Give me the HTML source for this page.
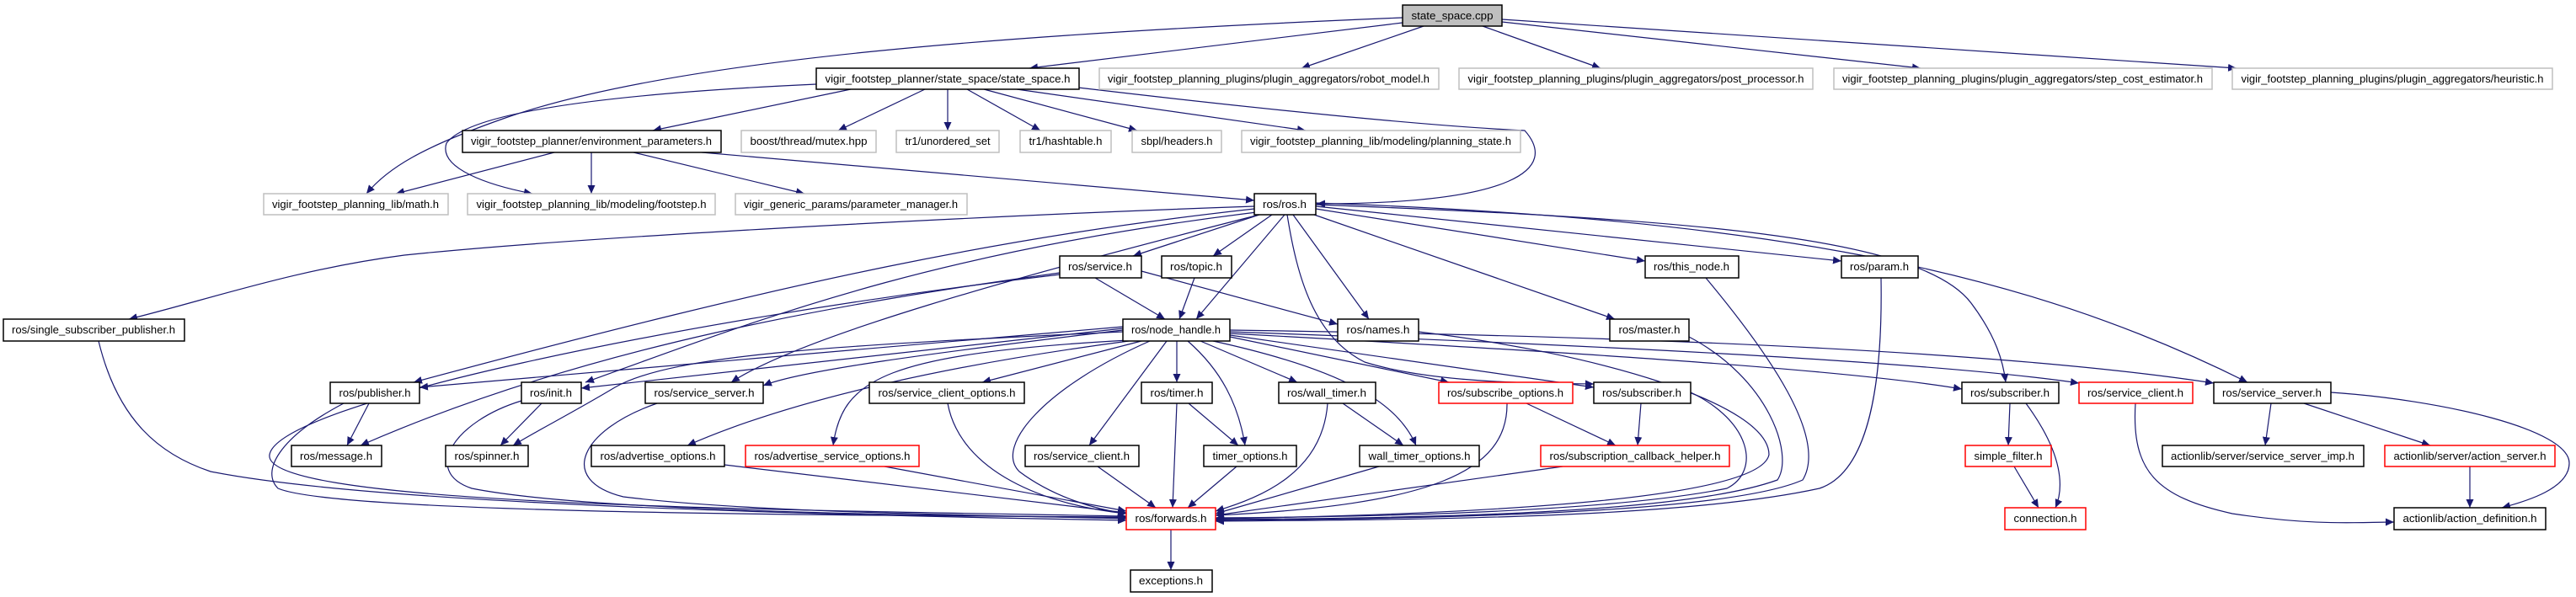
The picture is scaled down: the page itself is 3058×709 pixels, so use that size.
<!DOCTYPE html>
<html><head><meta charset="utf-8"><style>
html,body{margin:0;padding:0;background:#fff;}
svg{display:block;}
text{font-family:"Liberation Sans",sans-serif;font-size:13px;fill:#000;}
.e{fill:none;stroke:#191970;stroke-width:1.2;marker-end:url(#a);}
.b{fill:#fff;stroke:#000;stroke-width:1.5;}
.g{fill:#fff;stroke:#bfbfbf;stroke-width:1.5;}
.r{fill:#fff;stroke:#ff0000;stroke-width:1.5;}
.c{fill:#bfbfbf;stroke:#000;stroke-width:1.5;}
</style></head><body>
<svg width="3058" height="709" viewBox="0 0 3058 709" xmlns="http://www.w3.org/2000/svg">
<defs><marker id="a" markerUnits="userSpaceOnUse" markerWidth="11" markerHeight="9" refX="10" refY="4.5" orient="auto"><path d="M0,0 L10,4.5 L0,9 z" fill="#191970"/></marker></defs>
<g>
<path class="e" d="M1665,27 L1222,81"/>
<path class="e" d="M1690,31 L1545,81"/>
<path class="e" d="M1760,31 L1900,81"/>
<path class="e" d="M1783,26 L2280,81"/>
<path class="e" d="M1783,23 L2655,81"/>
<path class="e" d="M1665,21 C1200,40 800,70 600,140 C500,175 460,200 435,230"/>
<path class="e" d="M969,100 C750,110 560,130 530,170 C520,200 580,220 632,230"/>
<path class="e" d="M1010,106 L775,155"/>
<path class="e" d="M1098,106 L995,155"/>
<path class="e" d="M1125,106 L1125,155"/>
<path class="e" d="M1148,106 L1235,155"/>
<path class="e" d="M1168,106 L1350,155"/>
<path class="e" d="M1207,106 L1550,155"/>
<path class="e" d="M1280,104 C1500,130 1700,150 1810,155 C1850,200 1800,242 1563,242"/>
<path class="e" d="M658,181 L470,230"/>
<path class="e" d="M702,181 L702,230"/>
<path class="e" d="M752,181 L955,230"/>
<path class="e" d="M833,181 L1489,238"/>
<path class="e" d="M1489,245 C1200,255 700,280 480,303 C350,320 250,355 153,379"/>
<path class="e" d="M1489,248 C1200,280 950,330 491,454"/>
<path class="e" d="M1492,252 C1100,300 900,380 695,454"/>
<path class="e" d="M1495,255 C1200,330 950,400 868,454"/>
<path class="e" d="M1495,255 L1345,304"/>
<path class="e" d="M1510,255 L1440,304"/>
<path class="e" d="M1525,255 L1420,379"/>
<path class="e" d="M1535,255 L1625,379"/>
<path class="e" d="M1355,322 L1588,385"/>
<path class="e" d="M1560,255 L1917,379"/>
<path class="e" d="M1562,248 L1953,310"/>
<path class="e" d="M1562,245 L2186,310"/>
<path class="e" d="M1562,243 C2000,260 2280,280 2340,360 C2370,400 2378,430 2381,454"/>
<path class="e" d="M1562,241 C2100,260 2400,320 2668,454"/>
<path class="e" d="M1528,255 C1540,330 1560,400 1620,430 C1700,455 1820,455 1892,456"/>
<path class="e" d="M1300,330 L1383,379"/>
<path class="e" d="M1418,330 L1400,379"/>
<path class="e" d="M1258,324 C1000,360 700,410 428,529"/>
<path class="e" d="M1258,326 C800,380 330,480 320,540 C310,600 900,605 1337,613"/>
<path class="e" d="M1333,388 L498,460"/>
<path class="e" d="M1333,390 L690,461"/>
<path class="e" d="M1333,392 C1100,420 950,440 906,458"/>
<path class="e" d="M1333,394 C1000,410 800,420 730,460 C680,490 640,510 609,529"/>
<path class="e" d="M1340,405 C1150,430 950,470 816,529"/>
<path class="e" d="M1340,404 C1050,420 1000,450 989,529"/>
<path class="e" d="M1355,405 L1166,454"/>
<path class="e" d="M1385,405 L1293,529"/>
<path class="e" d="M1397,405 L1397,454"/>
<path class="e" d="M1410,405 C1450,440 1470,480 1478,529"/>
<path class="e" d="M1425,405 L1540,454"/>
<path class="e" d="M1440,405 C1600,440 1660,480 1681,529"/>
<path class="e" d="M1460,400 L1720,454"/>
<path class="e" d="M1460,398 L1892,460"/>
<path class="e" d="M1365,405 C1240,460 1180,530 1210,560 C1250,590 1300,605 1337,610"/>
<path class="e" d="M1460,396 C1900,420 2200,440 2329,462"/>
<path class="e" d="M1460,394 C1900,410 2300,430 2468,455"/>
<path class="e" d="M1460,392 C2000,400 2400,420 2628,455"/>
<path class="e" d="M438,479 L412,529"/>
<path class="e" d="M408,479 C330,520 310,560 330,580 C400,610 1000,612 1337,614"/>
<path class="e" d="M643,479 L594,529"/>
<path class="e" d="M619,476 C540,500 500,560 560,580 C700,608 1100,612 1337,615"/>
<path class="e" d="M780,479 C690,510 660,570 740,590 C900,610 1200,612 1337,616"/>
<path class="e" d="M117,405 C140,500 190,540 250,560 C450,600 1000,612 1337,618"/>
<path class="e" d="M860,552 L1337,609"/>
<path class="e" d="M1050,554 L1337,607"/>
<path class="e" d="M1125,479 C1140,560 1240,600 1337,610"/>
<path class="e" d="M1303,554 L1372,603"/>
<path class="e" d="M1397,479 L1392,603"/>
<path class="e" d="M1411,479 L1470,529"/>
<path class="e" d="M1468,554 L1410,603"/>
<path class="e" d="M1576,479 C1570,560 1500,590 1443,607"/>
<path class="e" d="M1594,479 L1666,529"/>
<path class="e" d="M1637,554 L1443,610"/>
<path class="e" d="M1789,479 C1790,560 1700,600 1443,612"/>
<path class="e" d="M1812,479 L1918,529"/>
<path class="e" d="M1948,479 L1944,529"/>
<path class="e" d="M2005,465 C2080,500 2090,560 2050,580 C1900,610 1600,614 1443,615"/>
<path class="e" d="M1855,554 L1443,612"/>
<path class="e" d="M1684,394 C1900,420 2100,480 2100,540 C2090,590 1800,610 1443,616"/>
<path class="e" d="M2005,400 C2100,450 2130,540 2110,570 C2000,610 1700,615 1443,617"/>
<path class="e" d="M2025,330 C2100,420 2170,520 2140,570 C2050,610 1700,616 1443,618"/>
<path class="e" d="M2233,330 C2235,450 2220,560 2160,580 C2000,615 1700,617 1443,619"/>
<path class="e" d="M1390,629 L1390,677"/>
<path class="e" d="M2386,479 L2384,529"/>
<path class="e" d="M2405,479 C2450,540 2450,580 2440,603"/>
<path class="e" d="M2391,554 L2420,603"/>
<path class="e" d="M2535,479 C2530,560 2560,590 2650,610 C2750,625 2800,620 2842,620"/>
<path class="e" d="M2696,479 L2689,529"/>
<path class="e" d="M2735,479 L2885,529"/>
<path class="e" d="M2767,466 C2900,475 3050,510 3050,550 C3050,580 3000,595 2970,603"/>
<path class="e" d="M2932,554 L2932,603"/>
</g>
<g id="nodes">
<rect class="c" x="1665" y="6" width="118" height="25"/><text x="1724" y="23" text-anchor="middle" textLength="97" lengthAdjust="spacingAndGlyphs">state_space.cpp</text>
<rect class="b" x="969" y="81" width="312" height="25"/><text x="1125" y="98" text-anchor="middle" textLength="291" lengthAdjust="spacingAndGlyphs">vigir_footstep_planner/state_space/state_space.h</text>
<rect class="g" x="1305" y="81" width="403" height="25"/><text x="1506" y="98" text-anchor="middle" textLength="382" lengthAdjust="spacingAndGlyphs">vigir_footstep_planning_plugins/plugin_aggregators/robot_model.h</text>
<rect class="g" x="1732" y="81" width="420" height="25"/><text x="1942" y="98" text-anchor="middle" textLength="399" lengthAdjust="spacingAndGlyphs">vigir_footstep_planning_plugins/plugin_aggregators/post_processor.h</text>
<rect class="g" x="2177" y="81" width="449" height="25"/><text x="2401" y="98" text-anchor="middle" textLength="428" lengthAdjust="spacingAndGlyphs">vigir_footstep_planning_plugins/plugin_aggregators/step_cost_estimator.h</text>
<rect class="g" x="2650" y="81" width="380" height="25"/><text x="2840" y="98" text-anchor="middle" textLength="359" lengthAdjust="spacingAndGlyphs">vigir_footstep_planning_plugins/plugin_aggregators/heuristic.h</text>
<rect class="b" x="549" y="155" width="307" height="26"/><text x="702" y="172" text-anchor="middle" textLength="286" lengthAdjust="spacingAndGlyphs">vigir_footstep_planner/environment_parameters.h</text>
<rect class="g" x="880" y="155" width="160" height="26"/><text x="960" y="172" text-anchor="middle" textLength="139" lengthAdjust="spacingAndGlyphs">boost/thread/mutex.hpp</text>
<rect class="g" x="1064" y="155" width="122" height="26"/><text x="1125" y="172" text-anchor="middle" textLength="101" lengthAdjust="spacingAndGlyphs">tr1/unordered_set</text>
<rect class="g" x="1211" y="155" width="108" height="26"/><text x="1265" y="172" text-anchor="middle" textLength="87" lengthAdjust="spacingAndGlyphs">tr1/hashtable.h</text>
<rect class="g" x="1344" y="155" width="106" height="26"/><text x="1397" y="172" text-anchor="middle" textLength="85" lengthAdjust="spacingAndGlyphs">sbpl/headers.h</text>
<rect class="g" x="1474" y="155" width="331" height="26"/><text x="1639" y="172" text-anchor="middle" textLength="310" lengthAdjust="spacingAndGlyphs">vigir_footstep_planning_lib/modeling/planning_state.h</text>
<rect class="g" x="313" y="230" width="219" height="25"/><text x="422" y="247" text-anchor="middle" textLength="198" lengthAdjust="spacingAndGlyphs">vigir_footstep_planning_lib/math.h</text>
<rect class="g" x="555" y="230" width="294" height="25"/><text x="702" y="247" text-anchor="middle" textLength="273" lengthAdjust="spacingAndGlyphs">vigir_footstep_planning_lib/modeling/footstep.h</text>
<rect class="g" x="873" y="230" width="275" height="25"/><text x="1010" y="247" text-anchor="middle" textLength="254" lengthAdjust="spacingAndGlyphs">vigir_generic_params/parameter_manager.h</text>
<rect class="b" x="1489" y="230" width="73" height="25"/><text x="1525" y="247" text-anchor="middle" textLength="52" lengthAdjust="spacingAndGlyphs">ros/ros.h</text>
<rect class="b" x="1258" y="304" width="97" height="26"/><text x="1306" y="321" text-anchor="middle" textLength="76" lengthAdjust="spacingAndGlyphs">ros/service.h</text>
<rect class="b" x="1379" y="304" width="83" height="26"/><text x="1420" y="321" text-anchor="middle" textLength="62" lengthAdjust="spacingAndGlyphs">ros/topic.h</text>
<rect class="b" x="1953" y="304" width="111" height="26"/><text x="2008" y="321" text-anchor="middle" textLength="90" lengthAdjust="spacingAndGlyphs">ros/this_node.h</text>
<rect class="b" x="2186" y="304" width="91" height="26"/><text x="2231" y="321" text-anchor="middle" textLength="70" lengthAdjust="spacingAndGlyphs">ros/param.h</text>
<rect class="b" x="4" y="379" width="215" height="26"/><text x="111" y="396" text-anchor="middle" textLength="194" lengthAdjust="spacingAndGlyphs">ros/single_subscriber_publisher.h</text>
<rect class="b" x="1333" y="379" width="127" height="26"/><text x="1396" y="396" text-anchor="middle" textLength="106" lengthAdjust="spacingAndGlyphs">ros/node_handle.h</text>
<rect class="b" x="1588" y="379" width="96" height="26"/><text x="1636" y="396" text-anchor="middle" textLength="75" lengthAdjust="spacingAndGlyphs">ros/names.h</text>
<rect class="b" x="1911" y="379" width="94" height="26"/><text x="1958" y="396" text-anchor="middle" textLength="73" lengthAdjust="spacingAndGlyphs">ros/master.h</text>
<rect class="b" x="392" y="454" width="106" height="25"/><text x="445" y="471" text-anchor="middle" textLength="85" lengthAdjust="spacingAndGlyphs">ros/publisher.h</text>
<rect class="b" x="619" y="454" width="71" height="25"/><text x="654" y="471" text-anchor="middle" textLength="50" lengthAdjust="spacingAndGlyphs">ros/init.h</text>
<rect class="b" x="766" y="454" width="140" height="25"/><text x="836" y="471" text-anchor="middle" textLength="119" lengthAdjust="spacingAndGlyphs">ros/service_server.h</text>
<rect class="b" x="1032" y="454" width="184" height="25"/><text x="1124" y="471" text-anchor="middle" textLength="163" lengthAdjust="spacingAndGlyphs">ros/service_client_options.h</text>
<rect class="b" x="1355" y="454" width="84" height="25"/><text x="1397" y="471" text-anchor="middle" textLength="63" lengthAdjust="spacingAndGlyphs">ros/timer.h</text>
<rect class="b" x="1518" y="454" width="115" height="25"/><text x="1575" y="471" text-anchor="middle" textLength="94" lengthAdjust="spacingAndGlyphs">ros/wall_timer.h</text>
<rect class="r" x="1708" y="454" width="159" height="25"/><text x="1787" y="471" text-anchor="middle" textLength="138" lengthAdjust="spacingAndGlyphs">ros/subscribe_options.h</text>
<rect class="b" x="1892" y="454" width="115" height="25"/><text x="1949" y="471" text-anchor="middle" textLength="94" lengthAdjust="spacingAndGlyphs">ros/subscriber.h</text>
<rect class="b" x="2329" y="454" width="115" height="25"/><text x="2386" y="471" text-anchor="middle" textLength="94" lengthAdjust="spacingAndGlyphs">ros/subscriber.h</text>
<rect class="r" x="2468" y="454" width="135" height="25"/><text x="2535" y="471" text-anchor="middle" textLength="114" lengthAdjust="spacingAndGlyphs">ros/service_client.h</text>
<rect class="b" x="2628" y="454" width="139" height="25"/><text x="2697" y="471" text-anchor="middle" textLength="118" lengthAdjust="spacingAndGlyphs">ros/service_server.h</text>
<rect class="b" x="346" y="529" width="107" height="25"/><text x="399" y="546" text-anchor="middle" textLength="86" lengthAdjust="spacingAndGlyphs">ros/message.h</text>
<rect class="b" x="529" y="529" width="98" height="25"/><text x="578" y="546" text-anchor="middle" textLength="77" lengthAdjust="spacingAndGlyphs">ros/spinner.h</text>
<rect class="b" x="702" y="529" width="158" height="25"/><text x="781" y="546" text-anchor="middle" textLength="137" lengthAdjust="spacingAndGlyphs">ros/advertise_options.h</text>
<rect class="r" x="885" y="529" width="206" height="25"/><text x="988" y="546" text-anchor="middle" textLength="185" lengthAdjust="spacingAndGlyphs">ros/advertise_service_options.h</text>
<rect class="b" x="1217" y="529" width="135" height="25"/><text x="1284" y="546" text-anchor="middle" textLength="114" lengthAdjust="spacingAndGlyphs">ros/service_client.h</text>
<rect class="b" x="1429" y="529" width="110" height="25"/><text x="1484" y="546" text-anchor="middle" textLength="89" lengthAdjust="spacingAndGlyphs">timer_options.h</text>
<rect class="b" x="1614" y="529" width="142" height="25"/><text x="1685" y="546" text-anchor="middle" textLength="121" lengthAdjust="spacingAndGlyphs">wall_timer_options.h</text>
<rect class="r" x="1829" y="529" width="224" height="25"/><text x="1941" y="546" text-anchor="middle" textLength="203" lengthAdjust="spacingAndGlyphs">ros/subscription_callback_helper.h</text>
<rect class="r" x="2333" y="529" width="102" height="25"/><text x="2384" y="546" text-anchor="middle" textLength="81" lengthAdjust="spacingAndGlyphs">simple_filter.h</text>
<rect class="b" x="2567" y="529" width="239" height="25"/><text x="2686" y="546" text-anchor="middle" textLength="218" lengthAdjust="spacingAndGlyphs">actionlib/server/service_server_imp.h</text>
<rect class="r" x="2831" y="529" width="202" height="25"/><text x="2932" y="546" text-anchor="middle" textLength="181" lengthAdjust="spacingAndGlyphs">actionlib/server/action_server.h</text>
<rect class="r" x="1337" y="603" width="106" height="26"/><text x="1390" y="620" text-anchor="middle" textLength="85" lengthAdjust="spacingAndGlyphs">ros/forwards.h</text>
<rect class="r" x="2380" y="603" width="96" height="26"/><text x="2428" y="620" text-anchor="middle" textLength="75" lengthAdjust="spacingAndGlyphs">connection.h</text>
<rect class="b" x="2842" y="603" width="180" height="26"/><text x="2932" y="620" text-anchor="middle" textLength="159" lengthAdjust="spacingAndGlyphs">actionlib/action_definition.h</text>
<rect class="b" x="1342" y="677" width="97" height="26"/><text x="1390" y="694" text-anchor="middle" textLength="76" lengthAdjust="spacingAndGlyphs">exceptions.h</text>
</g>
</svg>
</body></html>
